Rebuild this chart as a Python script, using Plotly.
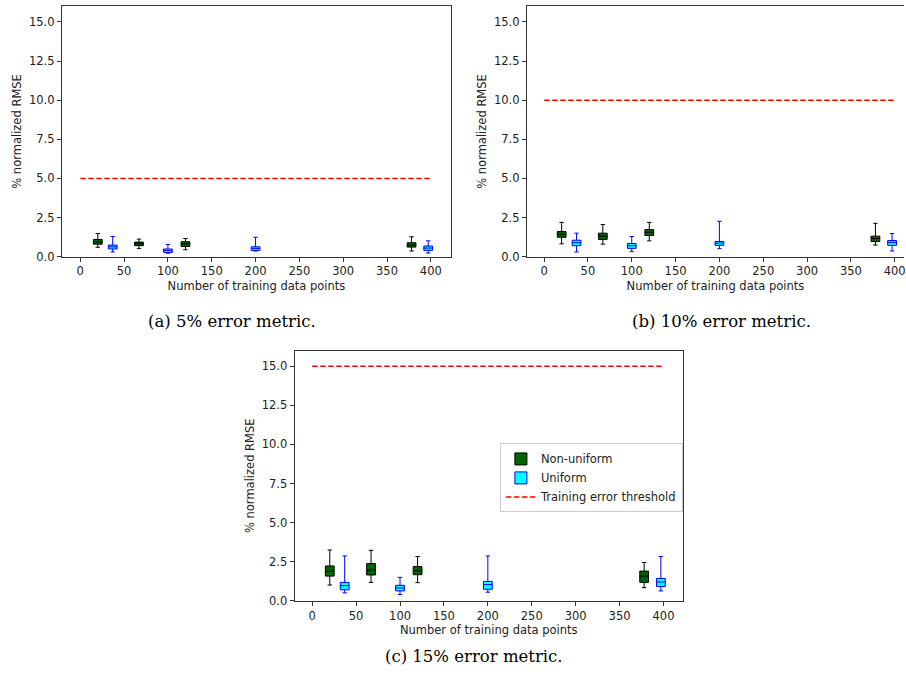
import plotly.graph_objects as go

W, H = 906, 684

# ---------------- data ----------------
nonuni_x = [20, 67, 120, 378]
uni_x = [37, 100, 200, 397]
x_ticks = [0, 50, 100, 150, 200, 250, 300, 350, 400]
y_ticks = [0, 2.5, 5, 7.5, 10, 12.5, 15]
thr_x = [0, 400]

# (a) 5% error metric
a_nu_low = [0.60, 0.51, 0.44, 0.36]
a_nu_q1 = [0.80, 0.70, 0.65, 0.61]
a_nu_med = [0.95, 0.82, 0.82, 0.74]
a_nu_q3 = [1.10, 0.93, 0.95, 0.89]
a_nu_high = [1.48, 1.12, 1.16, 1.27]
a_u_low = [0.30, 0.22, 0.36, 0.23]
a_u_q1 = [0.49, 0.27, 0.40, 0.40]
a_u_med = [0.63, 0.40, 0.53, 0.55]
a_u_q3 = [0.74, 0.49, 0.63, 0.68]
a_u_high = [1.29, 0.78, 1.24, 1.01]
a_thr = 5.0

# (b) 10% error metric
b_nu_low = [0.82, 0.80, 1.01, 0.74]
b_nu_q1 = [1.24, 1.10, 1.35, 0.97]
b_nu_med = [1.43, 1.31, 1.56, 1.16]
b_nu_q3 = [1.60, 1.50, 1.73, 1.31]
b_nu_high = [2.19, 2.05, 2.19, 2.13]
b_u_low = [0.30, 0.32, 0.51, 0.36]
b_u_q1 = [0.70, 0.53, 0.72, 0.72]
b_u_med = [0.89, 0.70, 0.86, 0.91]
b_u_q3 = [1.05, 0.84, 0.97, 1.03]
b_u_high = [1.50, 1.29, 2.26, 1.48]
b_thr = 10.0

# (c) 15% error metric
c_nu_low = [1.01, 1.18, 1.16, 0.84]
c_nu_q1 = [1.58, 1.65, 1.67, 1.18]
c_nu_med = [1.88, 1.96, 1.92, 1.58]
c_nu_q3 = [2.23, 2.38, 2.19, 1.90]
c_nu_high = [3.25, 3.23, 2.83, 2.45]
c_u_low = [0.51, 0.40, 0.55, 0.63]
c_u_q1 = [0.70, 0.63, 0.74, 0.91]
c_u_med = [0.97, 0.82, 1.03, 1.20]
c_u_q3 = [1.18, 0.99, 1.24, 1.43]
c_u_high = [2.87, 1.50, 2.87, 2.83]
c_thr = 15.0

panels = [
    ("x", "y", (a_nu_low, a_nu_q1, a_nu_med, a_nu_q3, a_nu_high),
     (a_u_low, a_u_q1, a_u_med, a_u_q3, a_u_high), a_thr, False),
    ("x2", "y2", (b_nu_low, b_nu_q1, b_nu_med, b_nu_q3, b_nu_high),
     (b_u_low, b_u_q1, b_u_med, b_u_q3, b_u_high), b_thr, False),
    ("x3", "y3", (c_nu_low, c_nu_q1, c_nu_med, c_nu_q3, c_nu_high),
     (c_u_low, c_u_q1, c_u_med, c_u_q3, c_u_high), c_thr, True),
]

NU_FILL = "#006400"
U_FILL = "#00FFFF"

fig = go.Figure()
for xa, ya, nu, u, thr, legend in panels:
    fig.add_trace(go.Box(
        x=nonuni_x, lowerfence=nu[0], q1=nu[1], median=nu[2], q3=nu[3], upperfence=nu[4],
        width=10, whiskerwidth=0.5, fillcolor=NU_FILL,
        line=dict(color="black", width=1), name="Non-uniform",
        legendgroup="nu", showlegend=legend, xaxis=xa, yaxis=ya, boxpoints=False))
    fig.add_trace(go.Box(
        x=uni_x, lowerfence=u[0], q1=u[1], median=u[2], q3=u[3], upperfence=u[4],
        width=10, whiskerwidth=0.5, fillcolor=U_FILL,
        line=dict(color="blue", width=1), name="Uniform",
        legendgroup="u", showlegend=legend, xaxis=xa, yaxis=ya, boxpoints=False))
    fig.add_trace(go.Scatter(
        x=thr_x, y=[thr, thr], mode="lines",
        line=dict(color="red", width=1.5, dash="5.5px,2.5px"),
        name="Training error threshold", legendgroup="thr",
        showlegend=legend, xaxis=xa, yaxis=ya))

tickfont = dict(family="DejaVu Sans", size=11.5, color="#222222")
titlefont = dict(family="DejaVu Sans", size=11.5, color="#222222")


def xax(domain, rng, anchor):
    return dict(domain=domain, range=rng, anchor=anchor, showline=True, linecolor="#333333",
                linewidth=1, mirror=True, ticks="outside", ticklen=4, tickcolor="#333333",
                showgrid=False, zeroline=False, tickvals=x_ticks, tickfont=tickfont,
                ticklabeloverflow="allow",
                title=dict(text="Number of training data points", font=titlefont, standoff=4))


def yax(domain, anchor, mirror=True):
    return dict(domain=domain, range=[0, 16], anchor=anchor, showline=True, linecolor="#333333",
                linewidth=1, mirror=mirror, ticks="outside", ticklen=4, tickcolor="#333333",
                showgrid=False, zeroline=False, tickvals=y_ticks, tickformat=".1f",
                tickfont=tickfont,
                title=dict(text="% normalized RMSE", font=titlefont, standoff=4))


top_dom = [(H - 259.3) / H, (H - 6.3) / H]
bot_dom = [(H - 607) / H, (H - 354.3) / H]

fig.update_layout(
    width=W, height=H,
    margin=dict(l=0, r=0, t=0, b=0),
    paper_bgcolor="white", plot_bgcolor="white",
    boxmode="overlay",
    xaxis=xax([62 / W, 452 / W], [-21, 423], "y"),
    yaxis=yax(top_dom, "x"),
    xaxis2=xax([528 / W, 1.0], [-19.7, 410.6], "y2"),
    yaxis2=yax(top_dom, "x2", mirror=False),
    xaxis3=xax([295.3 / W, 684.3 / W], [-20, 422], "y3"),
    yaxis3=yax(bot_dom, "x3"),
    legend=dict(x=501 / W, y=(H - 448) / H, xanchor="left", yanchor="top",
                bordercolor="#cccccc", borderwidth=1, bgcolor="rgba(255,255,255,0.9)",
                font=dict(family="DejaVu Sans", size=11.5, color="#222222"),
                tracegroupgap=0),
    showlegend=True,
)

captions = [("(a) 5% error metric.", 233, 325),
            ("(b) 10% error metric.", 723, 325),
            ("(c) 15% error metric.", 475, 663)]
for text, cx, cy in captions:
    fig.add_annotation(text=text, x=cx / W, y=(H - cy) / H, xref="paper", yref="paper",
                       xanchor="center", yanchor="middle", showarrow=False,
                       font=dict(family="DejaVu Serif", size=16.5, color="black"))

fig.write_html("out.html", config={"displayModeBar": False},
               post_script="document.body.style.margin='0px';document.body.style.overflow='hidden';")
